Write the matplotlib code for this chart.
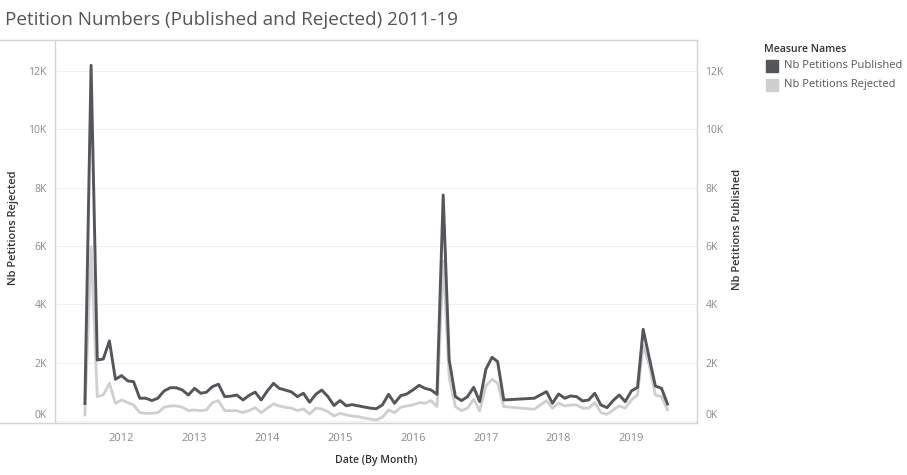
import numpy as np
import pandas as pd
import matplotlib
matplotlib.use("Agg")
import matplotlib.pyplot as plt
import matplotlib.dates as mdates
from matplotlib.patches import Rectangle
from matplotlib.lines import Line2D
from matplotlib.ticker import FuncFormatter

plt.rcParams['font.family'] = ['Open Sans', 'DejaVu Sans']

# monthly data, Jul 2011 - Jul 2019 (May-Aug 2017 missing)
months = pd.date_range("2011-07-01", "2019-07-01", freq="MS")
missing = pd.to_datetime(["2017-05-01", "2017-06-01", "2017-07-01", "2017-08-01"])
months = months.drop(missing)

published = [
    600, 12200, 2090, 2125, 2744, 1430,
    1555, 1372, 1350, 780, 780, 700, 780, 1030, 1140, 1140, 1060, 890,
    1120, 950, 985, 1180, 1260, 835, 850, 890, 720, 875, 990, 720,
    1030, 1290, 1120, 1060, 1000, 835, 950, 640, 915, 1060, 835, 530,
    700, 520, 560, 520, 480, 440, 420, 550, 915, 607, 868, 926,
    1063, 1224, 1120, 1063, 915, 7750, 2090, 835, 697, 835, 1155, 663,
    1773, 2184, 2035, 720, 780, 890, 1005, 607,
    926, 778, 857, 835, 686, 720, 950, 549, 457, 697, 890, 663,
    1029, 1155, 3145, 2150, 1200, 1120, 583,
]
rejected = [
    206, 5980, 835, 890, 1293, 607,
    720, 629, 549, 286, 263, 263, 286, 469, 515, 515, 469, 354,
    377, 354, 377, 629, 697, 354, 354, 354, 286, 354, 457, 286,
    440, 583, 515, 469, 440, 354, 412, 240, 440, 412, 320, 171,
    263, 206, 171, 150, 100, 70, 34, 126, 378, 286, 469, 515,
    549, 629, 607, 697, 492, 5500, 1500, 492, 354, 440, 743, 343,
    1200, 1430, 1293, 492, 400, 549, 697, 440,
    607, 515, 549, 549, 440, 440, 629, 286, 229, 377, 515, 440,
    720, 890, 2600, 1900, 890, 835, 377,
]
yticks = [0, 2000, 4000, 6000, 8000, 10000, 12000]

c_pub = "#53565b"
c_rej = "#cfcfcf"
c_tick = "#8a8a8a"
c_lab = "#333333"

W, H = 907, 475
fig = plt.figure(figsize=(W / 100, H / 100), dpi=100)
ax = fig.add_axes([55 / W, 1 - 423 / H, (697 - 55) / W, (423 - 40) / H])
ax2 = ax.twinx()

ylim = (-70, 13070)
ax.set_ylim(*ylim)
ax2.set_ylim(*ylim)
ax.set_xlim(pd.Timestamp("2011-02-01"), pd.Timestamp("2019-11-26"))

ax.plot(months, rejected, color=c_rej, lw=2.0, zorder=2)
ax2.plot(months, published, color=c_pub, lw=2.1, zorder=3)

kfmt = FuncFormatter(lambda v, p: "%dK" % round(v / 1000))
for a in (ax, ax2):
    a.set_yticks(yticks)
    a.yaxis.set_major_formatter(kfmt)
    for s in a.spines.values():
        s.set_visible(False)
    a.tick_params(axis="y", length=0, labelsize=7.5, labelcolor=c_tick, pad=6)
# tableau lifts the zero label above the axis line
ax.yaxis.get_major_ticks()[0].label1.set_va("bottom")
ax2.yaxis.get_major_ticks()[0].label2.set_va("bottom")
ax.yaxis.grid(True, color="#f0f0f0", lw=0.8)
ax.set_axisbelow(True)

ax.xaxis.set_major_locator(mdates.YearLocator())
ax.xaxis.set_major_formatter(mdates.DateFormatter("%Y"))
ax.tick_params(axis="x", length=0, labelsize=8, labelcolor=c_tick, pad=7)

# frame lines like tableau's panes
fig.add_artist(Line2D([0, 697 / W], [1 - 40 / H] * 2, color="#d4d4d4", lw=1))
fig.add_artist(Line2D([0, 697 / W], [1 - 423 / H] * 2, color="#d4d4d4", lw=1))
fig.add_artist(Line2D([55 / W] * 2, [1 - 40 / H, 1 - 423 / H], color="#d4d4d4", lw=1))
fig.add_artist(Line2D([697 / W] * 2, [1 - 40 / H, 1 - 423 / H], color="#d4d4d4", lw=1))

fig.text(5 / W, 1 - 20 / H, "Petition Numbers (Published and Rejected) 2011-19",
         fontsize=13.6, color="#555555", va="center", ha="left")
fig.text(14 / W, 1 - 228 / H, "Nb Petitions Rejected", rotation=90,
         fontsize=8.0, color=c_lab, va="center", ha="center", fontweight="semibold")
fig.text(738 / W, 1 - 229 / H, "Nb Petitions Published", rotation=90,
         fontsize=8.0, color=c_lab, va="center", ha="center", fontweight="semibold")
fig.text(376 / W, 1 - 460 / H, "Date (By Month)",
         fontsize=7.6, color=c_lab, va="center", ha="center", fontweight="semibold")

# legend
fig.text(764 / W, 1 - 49 / H, "Measure Names", fontsize=7.6, color=c_lab,
         va="center", ha="left", fontweight="semibold")
for i, (name, col) in enumerate([("Nb Petitions Published", c_pub),
                                  ("Nb Petitions Rejected", c_rej)]):
    yc = 66 + 19 * i
    fig.add_artist(Rectangle((766 / W, 1 - (yc + 6) / H), 12 / W, 12 / H,
                             transform=fig.transFigure, color=col))
    fig.text(784 / W, 1 - yc / H, name, fontsize=8.0, color="#555555",
             va="center", ha="left")

fig.savefig("out.png", dpi=100)
